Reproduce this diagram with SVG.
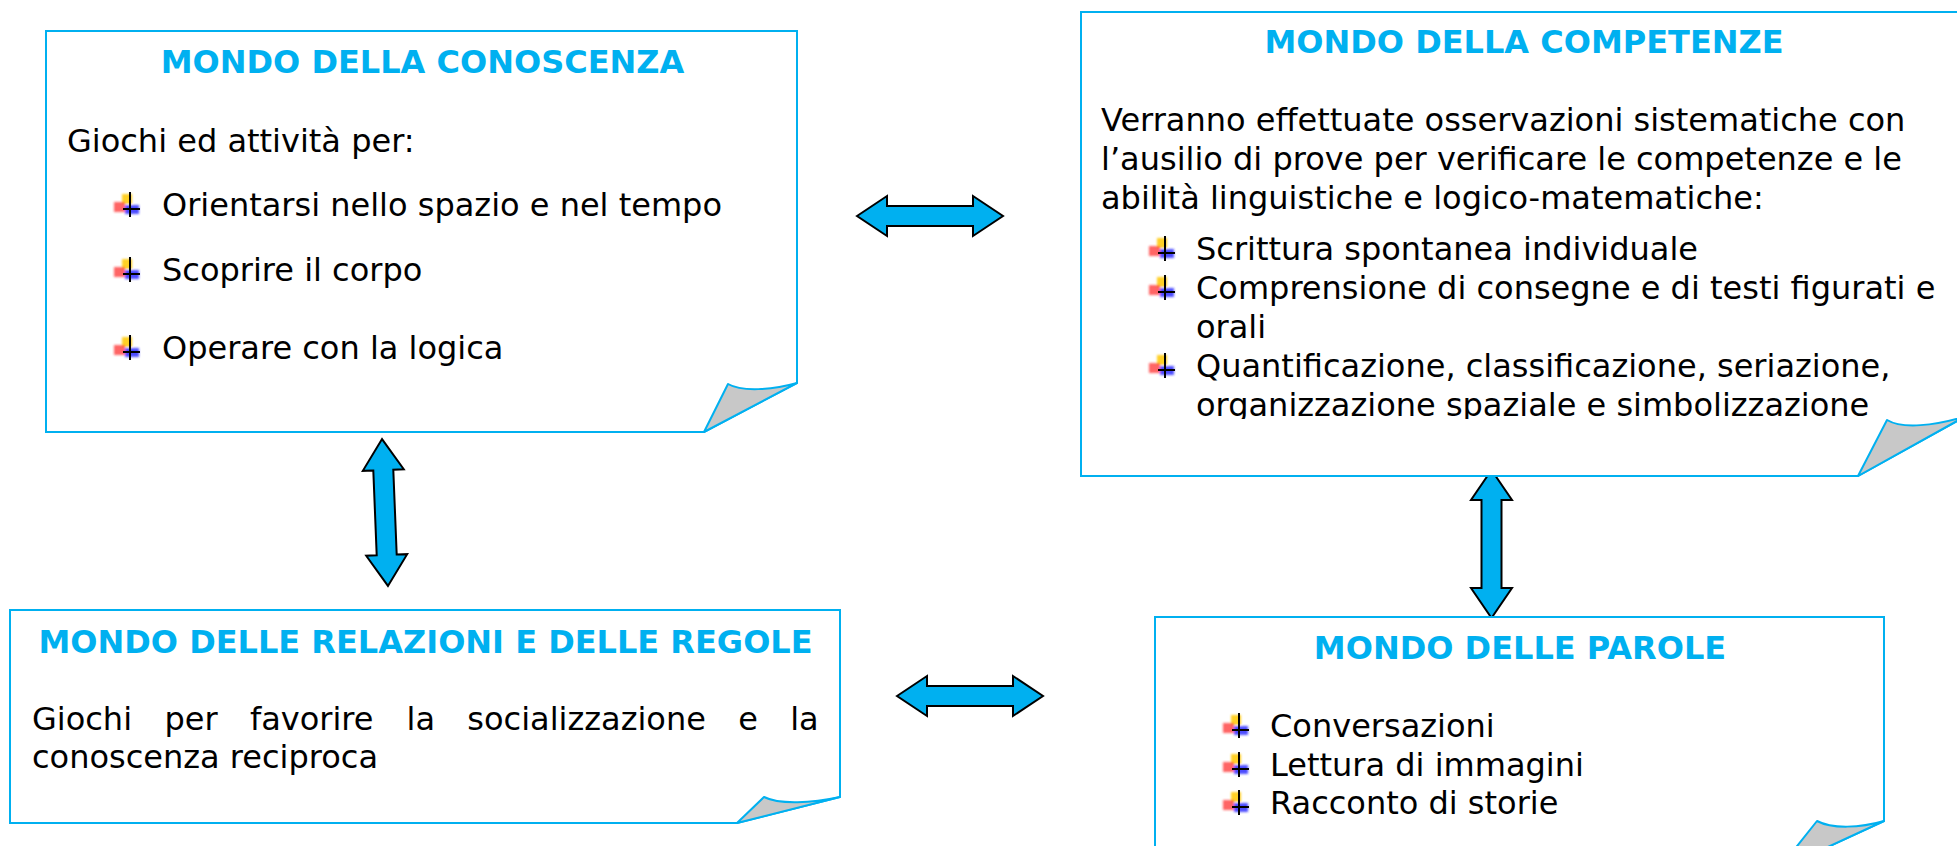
<svg xmlns="http://www.w3.org/2000/svg" xmlns:xlink="http://www.w3.org/1999/xlink" width="1957" height="846" viewBox="0 0 1957 846">
<style>
.box{fill:#ffffff;stroke:#00b0f0;stroke-width:2}
.fold{fill:#c8c8c8;stroke:#00b0f0;stroke-width:2;stroke-linejoin:round}
.title{font-family:"DejaVu Sans",Verdana,sans-serif;font-weight:bold;font-size:32px;fill:#00b0f0;text-anchor:middle}
.txt{font-family:"DejaVu Sans",Verdana,sans-serif;font-size:32px;fill:#000000}
.arrow{fill:#00b0f0;stroke:#000000;stroke-width:2;stroke-linejoin:miter}
</style>
<defs>
<filter id="soft" x="-20%" y="-20%" width="140%" height="140%"><feGaussianBlur stdDeviation="0.9"/></filter>
<g id="bullet">
<g filter="url(#soft)">
<rect x="8" y="-22" width="10" height="10" fill="#ffc800" opacity="0.85"/>
<rect x="0" y="-14" width="11" height="10" fill="#ff3030" opacity="0.75"/>
<rect x="11" y="-11" width="14" height="9" fill="#2020ff" opacity="0.8"/>
</g>
<line x1="16" y1="-24" x2="16" y2="1" stroke="#000" stroke-width="2"/>
<line x1="9" y1="-7" x2="26" y2="-7" stroke="#000" stroke-width="2"/>
</g>
<clipPath id="clip2"><rect x="1070" y="0" width="900" height="419"/></clipPath>
</defs>

<g id="connectors">
<polygon class="arrow" points="857,216 887,196 887,206 973,206 973,196 1003,216 973,236 973,226 887,226 887,236"/>
<polygon class="arrow" points="897,696 927,676 927,686 1013,686 1013,676 1043,696 1013,716 1013,706 927,706 927,716"/>
<polygon class="arrow" transform="translate(385,512.5) rotate(-2.3)" points="0,-73.5 20.5,-42.5 10,-42.5 10,42.5 20.5,42.5 0,73.5 -20.5,42.5 -10,42.5 -10,-42.5 -20.5,-42.5"/>
<polygon class="arrow" points="1491.5,470 1512,500 1501.5,500 1501.5,588 1512,588 1491.5,618 1471,588 1481.5,588 1481.5,500 1471,500"/>
</g>

<g id="node-conoscenza">
<path class="box" d="M46,31 H797 V383 L704,432 H46 Z"/>
<path class="fold" d="M704,432 L728,384 C742,392 772,390 797,383 Z"/>
<text class="title" x="422.5" y="73">MONDO DELLA CONOSCENZA</text>
<text class="txt" x="67" y="151.5">Giochi ed attività per:</text>
<use xlink:href="#bullet" x="114" y="216"/>
<text class="txt" x="162" y="216">Orientarsi nello spazio e nel tempo</text>
<use xlink:href="#bullet" x="114" y="281"/>
<text class="txt" x="162" y="281">Scoprire il corpo</text>
<use xlink:href="#bullet" x="114" y="359"/>
<text class="txt" x="162" y="359">Operare con la logica</text>
</g>

<g id="node-competenze">
<path class="box" d="M1081,12 H1966 V416 L1858,476 H1081 Z"/>
<path class="fold" d="M1858,476 L1887,420 C1902,429 1935,426 1966,416 Z"/>
<text class="title" x="1524" y="53">MONDO DELLA COMPETENZE</text>
<text class="txt" x="1101" y="131">Verranno effettuate osservazioni sistematiche con</text>
<text class="txt" x="1101" y="169.5">l’ausilio di prove per verificare le competenze e le</text>
<text class="txt" x="1101" y="209">abilità linguistiche e logico-matematiche:</text>
<use xlink:href="#bullet" x="1149" y="260"/>
<text class="txt" x="1196" y="260">Scrittura spontanea individuale</text>
<use xlink:href="#bullet" x="1149" y="299"/>
<text class="txt" x="1196" y="299">Comprensione di consegne e di testi figurati e</text>
<text class="txt" x="1196" y="338">orali</text>
<use xlink:href="#bullet" x="1149" y="377"/>
<text class="txt" x="1196" y="377">Quantificazione, classificazione, seriazione,</text>
<text class="txt" x="1196" y="416" clip-path="url(#clip2)">organizzazione spaziale e simbolizzazione</text>
</g>

<g id="node-relazioni">
<path class="box" d="M10,610 H840 V797 L737,823 H10 Z"/>
<path class="fold" d="M737,823 L764,797 C780,805 812,803 840,797 Z"/>
<text class="title" x="425.5" y="653">MONDO DELLE RELAZIONI E DELLE REGOLE</text>
<text class="txt" y="730"><tspan x="32">Giochi</tspan><tspan x="164.4">per</tspan><tspan x="249.9">favorire</tspan><tspan x="406.5">la</tspan><tspan x="467.3">socializzazione</tspan><tspan x="738.2">e</tspan><tspan x="790.2">la</tspan></text>
<text class="txt" x="32" y="768">conoscenza reciproca</text>
</g>

<g id="node-parole">
<path class="box" d="M1155,617 H1884 V821 L1778,870 H1155 Z"/>
<path class="fold" d="M1778,870 L1817,821 C1832,829 1860,828 1884,821 Z"/>
<text class="title" x="1520" y="659">MONDO DELLE PAROLE</text>
<use xlink:href="#bullet" x="1223" y="737"/>
<text class="txt" x="1270" y="737">Conversazioni</text>
<use xlink:href="#bullet" x="1223" y="776"/>
<text class="txt" x="1270" y="776">Lettura di immagini</text>
<use xlink:href="#bullet" x="1223" y="814"/>
<text class="txt" x="1270" y="814">Racconto di storie</text>
</g>
</svg>
